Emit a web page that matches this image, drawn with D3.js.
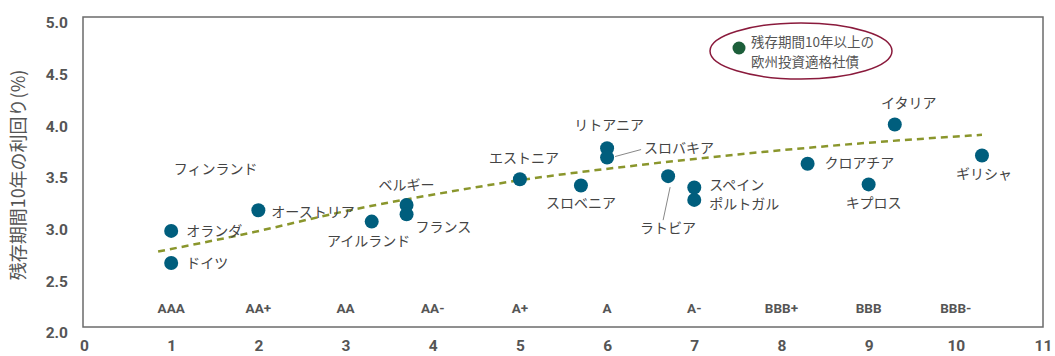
<!DOCTYPE html>
<html>
<head>
<meta charset="utf-8">
<script src="https://cdn.jsdelivr.net/npm/d3@7"></script>
<style>
  body { margin: 0; background: #fff; }
  svg { display: block; }
</style>
</head>
<body>
<svg width="1055" height="356"></svg>
<script>
// rating position (x), 10y yield (%)
const countries = ["ドイツ", "オランダ", "オーストリア", "アイルランド", "ベルギー", "フランス",
  "エストニア", "スロベニア", "リトアニア", "スロバキア", "ラトビア", "スペイン", "ポルトガル",
  "クロアチア", "キプロス", "イタリア", "ギリシャ"];
const ratingX = [1, 1, 2, 3.3, 3.7, 3.7, 5, 5.7, 6, 6, 6.7, 7, 7, 8.3, 9, 9.3, 10.3];
const yields = [2.62, 2.93, 3.13, 3.02, 3.18, 3.09, 3.43, 3.37, 3.73, 3.64, 3.46, 3.35, 3.23, 3.58, 3.38, 3.96, 3.66];

// trend line
const trendX = [0.85, 1.9, 3.05, 4.2, 5.0, 6.4, 7.5, 8.95, 10.3];
const trendY = [2.73, 2.91, 3.13, 3.31, 3.42, 3.57, 3.67, 3.78, 3.86];

const xTicks = [0, 1, 2, 3, 4, 5, 6, 7, 8, 9, 10, 11];
const yTicks = [2.0, 2.5, 3.0, 3.5, 4.0, 4.5, 5.0];
const ratings = ["AAA", "AA+", "AA", "AA-", "A+", "A", "A-", "BBB+", "BBB", "BBB-"];

const finland = { name: "フィンランド", x: 1.03, y: 3.53 };
const legendLines = ["残存期間10年以上の", "欧州投資適格社債"];

// label placement relative to dot (px)
const place = {
  "ドイツ": [15, 0, "start"],
  "オランダ": [15, 0, "start"],
  "オーストリア": [13, 2, "start"],
  "アイルランド": [-3, 19, "middle"],
  "ベルギー": [0, -20, "middle"],
  "フランス": [9, 13, "start"],
  "エストニア": [4, -21, "middle"],
  "スロベニア": [0, 18, "middle"],
  "リトアニア": [2, -23, "middle"],
  "スロバキア": [37, -9, "start"],
  "ラトビア": [0, 52, "middle"],
  "スペイン": [15, -2, "start"],
  "ポルトガル": [15, 4, "start"],
  "クロアチア": [17, -1, "start"],
  "キプロス": [5, 19, "middle"],
  "イタリア": [14, -21, "middle"],
  "ギリシャ": [2, 19, "middle"]
};

const svg = d3.select("svg");
const plotL = 83, plotR = 1043, plotT = 17, plotB = 327;

const x = d3.scaleLinear().domain([0, 11]).range([plotL + 1, plotR]);
const y = d3.scaleLinear().domain([2, 5]).range([plotB, plotT]);

const axisFont = "Roboto, 'DejaVu Sans', sans-serif";
const jpFont = "'Noto Sans CJK JP', sans-serif";

// frame
svg.append("rect")
  .attr("x", plotL).attr("y", plotT)
  .attr("width", plotR - plotL).attr("height", plotB - plotT)
  .attr("fill", "none")
  .attr("stroke", "#6b6b6b")
  .attr("stroke-width", 1.5);

// axes (labels only)
const xAxis = d3.axisBottom(x).tickValues(xTicks).tickSize(0).tickPadding(13).tickFormat(d3.format("d"));
const gx = svg.append("g").attr("transform", `translate(0,${plotB})`).call(xAxis);
gx.select(".domain").remove();
gx.selectAll("text")
  .attr("font-family", axisFont).attr("font-weight", "bold")
  .attr("font-size", 15.5).attr("fill", "#555");

const yAxis = d3.axisLeft(y).tickValues(yTicks).tickSize(0).tickPadding(15).tickFormat(d3.format(".1f"));
const gy = svg.append("g").attr("transform", `translate(${plotL},0)`).call(yAxis);
gy.select(".domain").remove();
gy.selectAll("text")
  .attr("font-family", axisFont).attr("font-weight", "bold")
  .attr("font-size", 15.5).attr("fill", "#555")
  .attr("dy", "0.7em");

svg.append("text")
  .attr("transform", `translate(25,${(plotT + plotB) / 2 + 3}) rotate(-90)`)
  .attr("text-anchor", "middle")
  .attr("font-family", jpFont)
  .attr("font-size", 18)
  .attr("fill", "#555")
  .text("残存期間10年の利回り(%)");

// rating labels
svg.append("g").selectAll("text")
  .data(ratings)
  .join("text")
  .attr("x", (d, i) => x(i + 1))
  .attr("y", 308)
  .attr("dy", "0.35em")
  .attr("text-anchor", "middle")
  .attr("font-family", axisFont).attr("font-weight", "bold")
  .attr("font-size", 13.5).attr("fill", "#555")
  .text(d => d);

// trend
const trend = trendX.map((v, i) => [v, trendY[i]]);
svg.append("path")
  .datum(trend)
  .attr("d", d3.line().x(d => x(d[0])).y(d => y(d[1])).curve(d3.curveMonotoneX))
  .attr("fill", "none")
  .attr("stroke", "#8a962c")
  .attr("stroke-width", 2.5)
  .attr("stroke-dasharray", "7,5");

const pts = countries.map((c, i) => ({ name: c, x: ratingX[i], y: yields[i] }));

// leader lines
const leaders = [
  { name: "スロバキア", from: [8, -1], to: [34, -8] },
  { name: "ラトビア", from: [2, 11], to: [-5, 44] }
];
leaders.forEach(l => {
  const p = pts.find(d => d.name === l.name);
  svg.append("line")
    .attr("x1", x(p.x) + l.from[0]).attr("y1", y(p.y) + l.from[1])
    .attr("x2", x(p.x) + l.to[0]).attr("y2", y(p.y) + l.to[1])
    .attr("stroke", "#888").attr("stroke-width", 1);
});

svg.append("g").selectAll("circle")
  .data(pts)
  .join("circle")
  .attr("cx", d => x(d.x))
  .attr("cy", d => y(d.y))
  .attr("r", 7)
  .attr("fill", "#005e7d");

svg.append("g").selectAll("text")
  .data(pts)
  .join("text")
  .attr("x", d => x(d.x) + place[d.name][0])
  .attr("y", d => y(d.y) + place[d.name][1])
  .attr("dy", "0.35em")
  .attr("text-anchor", d => place[d.name][2])
  .attr("font-family", jpFont)
  .attr("font-size", 14)
  .attr("fill", "#444")
  .text(d => d.name);

svg.append("text")
  .attr("x", x(finland.x)).attr("y", y(finland.y))
  .attr("dy", "0.35em")
  .attr("font-family", jpFont)
  .attr("font-size", 14)
  .attr("fill", "#444")
  .text(finland.name);

// legend
svg.append("ellipse")
  .attr("cx", 801).attr("cy", 51)
  .attr("rx", 91).attr("ry", 28)
  .attr("fill", "none")
  .attr("stroke", "#8a1a3c")
  .attr("stroke-width", 1.5);
svg.append("circle")
  .attr("cx", 739).attr("cy", 48).attr("r", 6.5)
  .attr("fill", "#1c5e3a");
svg.append("g").selectAll("text")
  .data(legendLines)
  .join("text")
  .attr("x", 751)
  .attr("y", (d, i) => 42 + i * 20)
  .attr("dy", "0.35em")
  .attr("font-family", jpFont)
  .attr("font-size", 13.5)
  .attr("fill", "#555")
  .text(d => d);
</script>
</body>
</html>
